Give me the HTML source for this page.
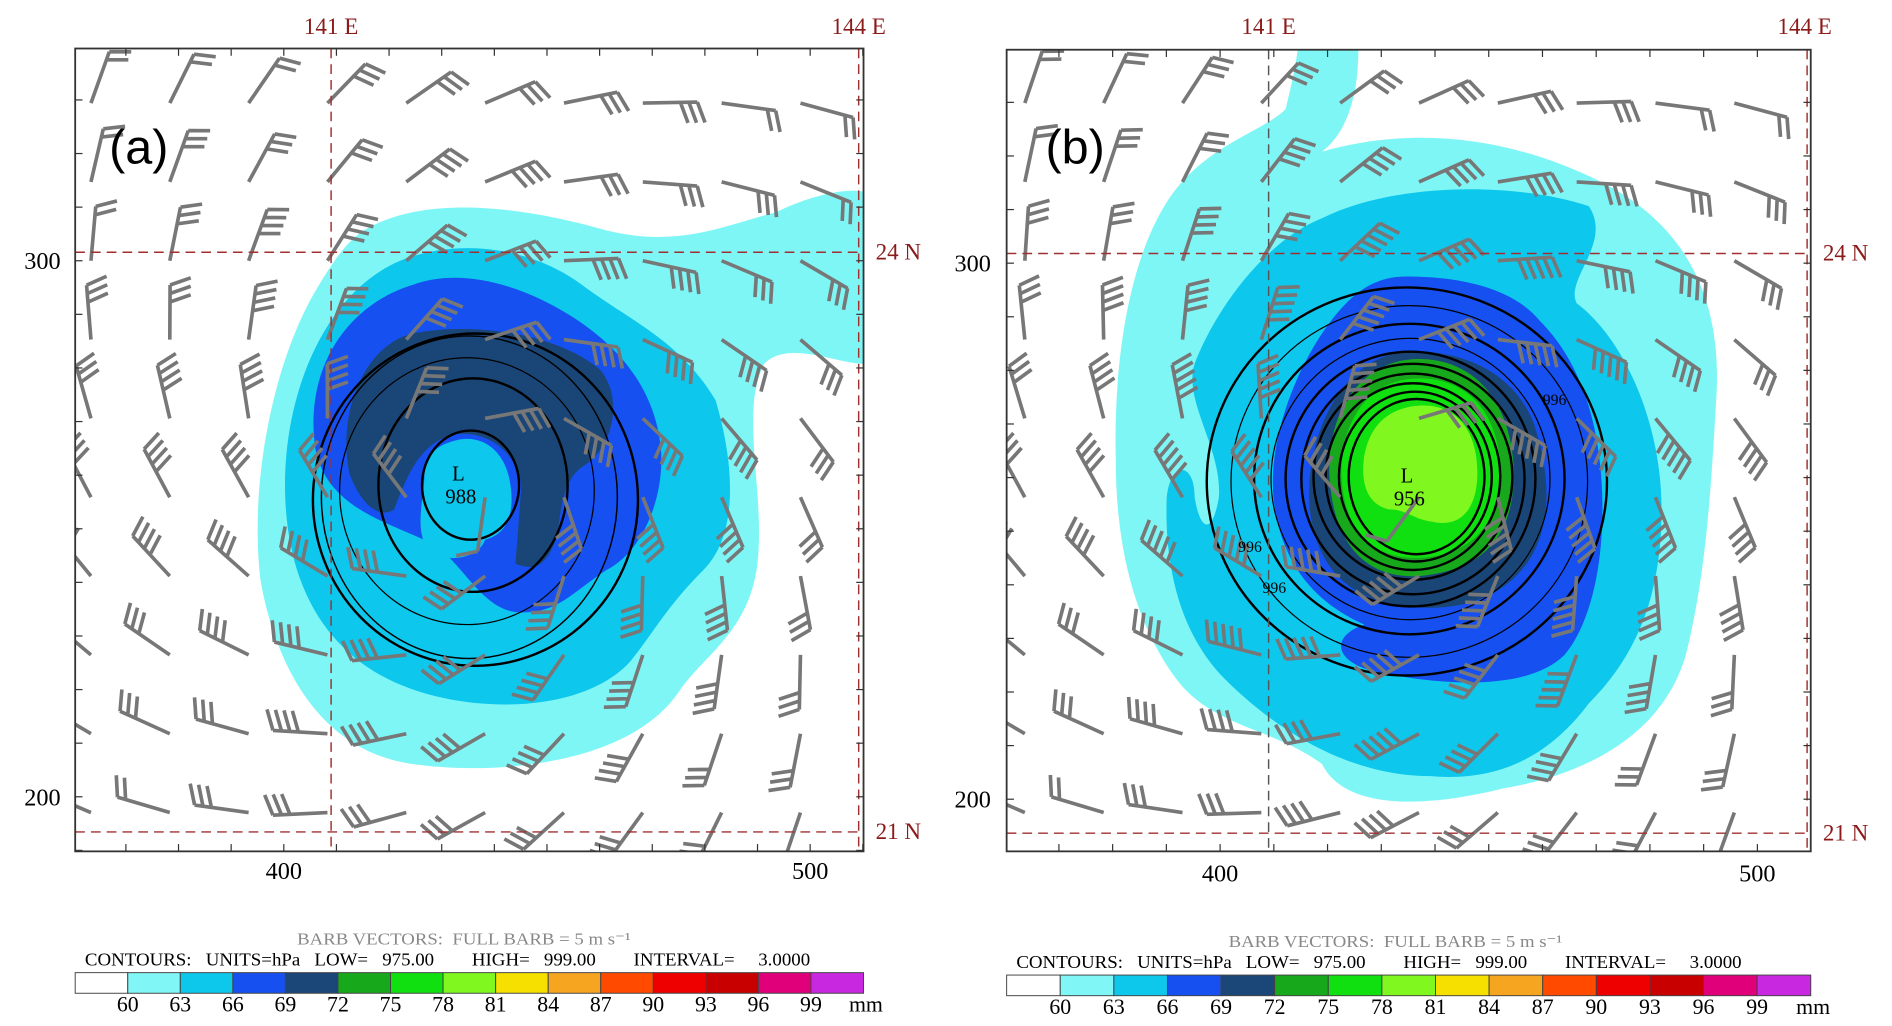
<!DOCTYPE html>
<html><head><meta charset="utf-8">
<style>
html,body{margin:0;padding:0;background:#fff;}
svg{display:block;}
text{font-family:"Liberation Serif",serif;}
</style></head>
<body>
<svg id="fig" width="1892" height="1026" viewBox="0 0 1560 846" preserveAspectRatio="none" xmlns="http://www.w3.org/2000/svg">
<defs>
<clipPath id="clipA"><rect x="62" y="40" width="650" height="662"/></clipPath>
<clipPath id="clipB"><rect x="830" y="41" width="663" height="661"/></clipPath>
</defs>

<g>
<g clip-path="url(#clipA)">
<path fill="#7ff6f6" d="M300,190 C350,160 430,170 500,190 C560,205 600,185 640,175 C670,160 700,155 712,158 L712,300 C690,300 650,280 630,300 C610,340 630,400 625,460 C620,520 580,540 560,570 C520,630 410,640 340,630 C270,620 230,560 215,480 C205,400 225,300 260,240 C275,215 285,200 300,190 Z"/>
<path fill="#0ec7ec" d="M330,215 C380,195 440,205 480,235 C520,265 560,280 590,330 C605,380 610,440 580,470 C550,500 540,520 520,545 C480,590 380,590 320,560 C260,530 235,470 235,400 C235,320 270,240 330,215 Z"/>
<path fill="#1650f0" d="M340,235 C380,220 430,235 470,260 C510,285 540,320 545,370 C548,410 530,455 500,470 C470,490 460,505 430,505 C400,505 385,470 360,450 C320,430 270,420 260,370 C250,300 290,250 340,235 Z"/>
<path fill="#1a4677" d="M340,275 C390,265 460,275 495,305 C515,330 505,370 480,385 C465,395 462,420 460,440 C450,470 440,470 425,465 L430,400 C425,370 400,355 375,358 C345,365 335,395 325,420 C310,430 295,410 288,390 C278,340 300,285 340,275 Z"/>
<path fill="#0ec7ec" d="M370,365 C395,355 415,370 420,395 C425,420 420,440 400,445 C395,460 370,465 355,455 C340,440 350,410 350,390 C352,375 360,368 370,365 Z"/>
</g>
<g fill="none" stroke="#000" clip-path="url(#clipA)">
<ellipse cx="392" cy="412" rx="134" ry="137" stroke-width="2"/>
<ellipse cx="387" cy="410" rx="122" ry="133" stroke-width="1.2"/>
<ellipse cx="385" cy="405" rx="105" ry="110" stroke-width="1"/>
<ellipse cx="390" cy="400" rx="78" ry="88" stroke-width="2"/>
<ellipse cx="388" cy="400" rx="40" ry="45" stroke-width="2"/>
</g>
<g id="barbsA" clip-path="url(#clipA)"></g>
<g stroke="#a03030" stroke-width="1.2" stroke-dasharray="8,5">
<line x1="273" y1="40" x2="273" y2="702"/><line x1="708" y1="40" x2="708" y2="702"/>
<line x1="62" y1="208" x2="712" y2="208"/><line x1="62" y1="686" x2="712" y2="686"/>
</g>
<rect x="62" y="40" width="650" height="662" fill="none" stroke="#333" stroke-width="1.5"/>
<g id="ticksA" stroke="#333" stroke-width="1"></g>
<text x="90" y="135" font-size="40" style="font-family:'Liberation Sans',sans-serif">(a)</text>
<g font-size="17" text-anchor="middle"><text x="378" y="396">L</text><text x="380" y="415">988</text></g>
<g fill="#8b1a1a" font-size="19">
<text x="273" y="28" text-anchor="middle">141 E</text><text x="708" y="28" text-anchor="middle">144 E</text>
<text x="722" y="214">24 N</text><text x="722" y="692">21 N</text></g>
<g font-size="20">
<text x="35" y="222" text-anchor="middle">300</text><text x="35" y="664" text-anchor="middle">200</text>
<text x="234" y="725" text-anchor="middle">400</text><text x="668" y="725" text-anchor="middle">500</text></g>
</g>

<g>
<g clip-path="url(#clipB)">
<path fill="#7ff6f6" d="M1070,41 L1120,41 C1120,80 1110,110 1090,125 C1160,105 1240,110 1320,150 C1400,190 1420,260 1415,330 C1410,420 1405,480 1390,540 C1370,610 1300,640 1240,650 C1180,665 1110,670 1090,630 C1050,600 1000,600 970,560 C940,520 920,460 920,380 C918,300 930,220 960,170 C990,120 1040,110 1060,90 C1065,70 1068,55 1070,41 Z"/>
<path fill="#0ec7ec" d="M1090,180 C1150,150 1250,150 1310,170 C1330,200 1290,230 1300,250 C1340,280 1370,350 1370,420 C1370,490 1350,540 1310,580 C1280,620 1240,645 1180,640 C1110,640 1050,600 1010,560 C970,520 960,460 962,410 C965,380 985,380 985,410 C990,440 1000,440 1005,410 C1008,370 975,330 985,300 C1000,260 1040,200 1090,180 Z"/>
<path fill="#1650f0" d="M1160,228 C1210,228 1250,240 1270,265 C1295,290 1315,330 1320,390 C1325,450 1315,510 1290,540 C1260,570 1190,565 1140,555 C1100,548 1095,525 1125,515 C1080,495 1055,460 1050,410 C1045,350 1080,280 1110,250 C1125,235 1140,228 1160,228 Z"/>
<path fill="#1a4677" d="M1160,290 C1210,288 1250,310 1265,350 C1278,390 1280,430 1262,460 C1240,495 1200,505 1160,500 C1110,495 1085,465 1080,420 C1075,370 1100,295 1160,290 Z"/>
<path fill="#17a81c" d="M1170,296 C1215,296 1245,330 1248,385 C1250,440 1225,470 1170,475 C1120,478 1098,440 1096,390 C1095,335 1125,296 1170,296 Z"/>
<path fill="#10e010" d="M1170,312 C1210,312 1235,340 1237,385 C1238,430 1215,458 1170,460 C1125,461 1107,430 1106,390 C1106,345 1130,312 1170,312 Z"/>
<path fill="#80f820" d="M1165,335 C1200,330 1220,355 1218,395 C1216,425 1200,435 1180,430 C1165,428 1160,420 1145,420 C1125,415 1122,395 1125,375 C1130,350 1145,338 1165,335 Z"/>
</g>
<g fill="none" stroke="#000" clip-path="url(#clipB)">
<ellipse cx="1160" cy="397" rx="165" ry="160" stroke-width="2"/>
<ellipse cx="1162" cy="397" rx="147" ry="145" stroke-width="1"/>
<ellipse cx="1162" cy="395" rx="128" ry="128" stroke-width="2"/>
<ellipse cx="1163" cy="395" rx="115" ry="116" stroke-width="1"/>
<ellipse cx="1163" cy="395" rx="103" ry="105" stroke-width="2"/>
<ellipse cx="1165" cy="395" rx="92" ry="95" stroke-width="2"/>
<ellipse cx="1165" cy="393" rx="82" ry="85" stroke-width="2"/>
<ellipse cx="1165" cy="393" rx="72" ry="77" stroke-width="2"/>
<ellipse cx="1167" cy="393" rx="63" ry="70" stroke-width="2"/>
<ellipse cx="1168" cy="393" rx="56" ry="64" stroke-width="2"/>
</g>
<g id="barbsB" clip-path="url(#clipB)"></g>
<g stroke="#a03030" stroke-width="1.2" stroke-dasharray="8,5">
<line x1="1046" y1="41" x2="1046" y2="702" stroke="#555"/><line x1="1490" y1="41" x2="1490" y2="702"/>
<line x1="830" y1="209" x2="1493" y2="209"/><line x1="830" y1="687" x2="1493" y2="687"/>
</g>
<rect x="830" y="41" width="663" height="661" fill="none" stroke="#333" stroke-width="1.5"/>
<g id="ticksB" stroke="#333" stroke-width="1"></g>
<text x="862" y="135" font-size="40" style="font-family:'Liberation Sans',sans-serif">(b)</text>
<g font-size="17" text-anchor="middle"><text x="1160" y="398">L</text><text x="1162" y="417">956</text></g>
<g font-size="13"><text x="1272" y="334">996</text><text x="1021" y="455">996</text><text x="1041" y="489">996</text></g>
<g fill="#8b1a1a" font-size="19">
<text x="1046" y="28" text-anchor="middle">141 E</text><text x="1488" y="28" text-anchor="middle">144 E</text>
<text x="1503" y="215">24 N</text><text x="1503" y="693">21 N</text></g>
<g font-size="20">
<text x="802" y="224" text-anchor="middle">300</text><text x="802" y="666" text-anchor="middle">200</text>
<text x="1006" y="727" text-anchor="middle">400</text><text x="1449" y="727" text-anchor="middle">500</text></g>
</g>

<g id="legendA"></g>
<g id="legendB"></g>
</svg>
<script>
const levels = [60,63,66,69,72,75,78,81,84,87,90,93,96,99];
const levelColors = ["#ffffff","#80f6f6","#0ec8ec","#1650f0","#1a4678","#17a81c","#10e010","#80f820","#f5e000","#f5a520","#ff4a00","#ee0000","#c80000","#e0007a","#c828e0"];
const contourLow = "975.00", contourHigh = "999.00", contourInterval = "3.0000";
const NS = "http://www.w3.org/2000/svg";
function mk(tag, attrs, parent){const e=document.createElementNS(NS,tag);for(const k in attrs)e.setAttribute(k,attrs[k]);parent.appendChild(e);return e;}

function legend(gid, x0, x1, yOff){
  const g=document.getElementById(gid);
  const w=(x1-x0)/levelColors.length;
  const t1=mk('text',{x:x0+183,y:779+yOff,'font-size':14,fill:'#888',textLength:275,lengthAdjust:'spacingAndGlyphs'},g);
  
  
  t1.style.whiteSpace='pre';
  t1.textContent='BARB VECTORS:  FULL BARB = 5 m s\u207B\u00B9';
  const t2=mk('text',{x:x0+8,y:796+yOff,'font-size':15,textLength:598,lengthAdjust:'spacingAndGlyphs'},g);
  
  
  t2.style.whiteSpace='pre';
  t2.textContent='CONTOURS:   UNITS=hPa   LOW=   '+contourLow+'        HIGH=   '+contourHigh+'        INTERVAL=     '+contourInterval;
  levelColors.forEach((c,i)=>{
    const r=mk('rect',{x:x0+i*w,y:802+yOff,width:w,height:17,fill:c,stroke:'#444','stroke-width':0.8},g);
    
    
  });
  levels.forEach((v,i)=>{
    const t=mk('text',{x:x0+(i+1)*w,y:834+yOff,'font-size':18,'text-anchor':'middle'},g);
    
    
    t.textContent=v;
  });
  const mm=mk('text',{x:x1+2,y:834+yOff,'font-size':18,'text-anchor':'middle'},g);
  
  
  mm.textContent='mm';
}
legend('legendA',62,712,0);
legend('legendB',830,1493,2);

function ticks(gid,x0,x1,y0,y1,xpx0,xv0,xs,ypx0,yv0,ys){
  const g=document.getElementById(gid);
  for(let v=370;v<=510;v+=10){const x=xpx0+(v-xv0)*xs;if(x<=x0||x>=x1)continue;
    mk('line',{x1:x,y1:y0,x2:x,y2:y0+6},g);mk('line',{x1:x,y1:y1,x2:x,y2:y1-6},g);}
  for(let v=190;v<=340;v+=10){const y=ypx0-(v-yv0)*ys;if(y<=y0||y>=y1)continue;
    mk('line',{x1:x0,y1:y,x2:x0+6,y2:y},g);mk('line',{x1:x1,y1:y,x2:x1-6,y2:y},g);}
}
ticks('ticksA',62,712,40,702,234,400,4.34,215,300,4.42);
ticks('ticksB',830,1493,41,702,1006,400,4.43,217,300,4.42);

function barbs(gid,x0,x1,y0,y1,cx,cy,strong){
  const g=document.getElementById(gid);
  for(let y=y0;y<=y1;y+=65){for(let x=x0;x<=x1;x+=65){
    const dx=x-cx,dy=y-cy,r=Math.hypot(dx,dy)||1;
    const a=0.45;
    const vx=(dy/r)*Math.cos(a)-(dx/r)*Math.sin(a);
    const vy=(-dx/r)*Math.cos(a)-(dy/r)*Math.sin(a);
    const L=45;const ex=x-vx*L,ey=y-vy*L;
    let n=Math.round(2+(strong?3:2.5)*Math.exp(-Math.pow((r-140)/170,2)));
    if(r<50)n=1;
    const p=mk('path',{},g);
    
    
    let d='M'+x+','+y+'L'+ex+','+ey;
    const ux=-vx,uy=-vy;const px=-uy,py=ux;
    for(let k=0;k<n;k++){const bx=ex-ux*k*7,by=ey-uy*k*7;
      d+='M'+bx+','+by+'L'+(bx+px*17+ux*6)+','+(by+py*17+uy*6);}
    p.setAttribute('d',d);p.setAttribute('stroke','#777');p.setAttribute('stroke-width','3');p.setAttribute('fill','none');
  }}
}
barbs('barbsA',75,710,85,700,385,400,false);
barbs('barbsB',845,1490,85,700,1162,395,true);
</script>
</body></html>
